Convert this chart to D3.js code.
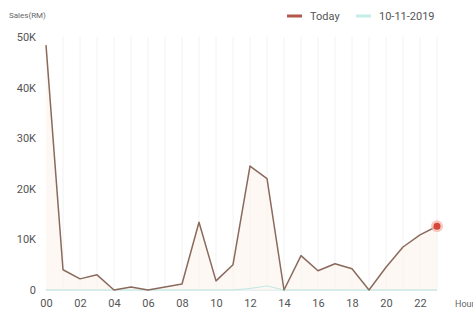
<!DOCTYPE html>
<html>
<head>
<meta charset="utf-8">
<script src="https://cdn.jsdelivr.net/npm/d3@7"></script>
<style>
  body { margin: 0; background: #fff; }
  text { font-family: Roboto, "Noto Sans", sans-serif; }
</style>
</head>
<body>
<div id="chart"></div>
<script>
// hours of the day
var hours = d3.range(0, 24);
var hourLabels = ["00","02","04","06","08","10","12","14","16","18","20","22"];

// sales per hour (RM)
var todaySales = [48400, 4000, 2200, 3000, 0, 600, 0, 600, 1200, 13400, 1800, 5000,
                  24500, 22000, 0, 6800, 3800, 5200, 4200, 0, 4500, 8500, 10900, 12600];
var pastSales  = [0, 0, 0, 0, 0, 0, 0, 0, 0, 0, 0, 0,
                  300, 800, 0, 0, 0, 0, 0, 0, 0, 0, 0, 0];

var yTicks = [0, 10000, 20000, 30000, 40000, 50000];

var width = 473, height = 313;
var margin = { top: 37, right: 36, bottom: 23, left: 46 };

var svg = d3.select("#chart").append("svg")
  .attr("width", width)
  .attr("height", height);

var x = d3.scaleLinear()
  .domain([0, 23])
  .range([margin.left, width - margin.right]);

var y = d3.scaleLinear()
  .domain([0, 50000])
  .range([height - margin.bottom, margin.top]);

// vertical grid
svg.append("g")
  .selectAll("line")
  .data(hours.slice(1))
  .enter().append("line")
  .attr("x1", function(d) { return x(d); })
  .attr("x2", function(d) { return x(d); })
  .attr("y1", y(50000))
  .attr("y2", y(0))
  .attr("stroke", "#f2f2f2")
  .attr("stroke-width", 1);

// baseline
svg.append("line")
  .attr("x1", x(0)).attr("x2", x(23))
  .attr("y1", y(0)).attr("y2", y(0))
  .attr("stroke", "#cfe3e3");

// y axis labels
var yAxis = d3.axisLeft(y)
  .tickValues(yTicks)
  .tickSize(0)
  .tickPadding(10)
  .tickFormat(function(d) { return d == 0 ? "0" : (d / 1000) + "K"; });

svg.append("g")
  .attr("transform", "translate(" + margin.left + ",0)")
  .call(yAxis)
  .call(function(g) { g.select(".domain").remove(); })
  .selectAll("text")
  .attr("fill", "#555")
  .style("font-size", "11px");

// x axis labels
var xAxis = d3.axisBottom(x)
  .tickValues(d3.range(0, 24, 2))
  .tickSize(0)
  .tickPadding(9)
  .tickFormat(function(d, i) { return hourLabels[i]; });

svg.append("g")
  .attr("transform", "translate(0," + y(0) + ")")
  .call(xAxis)
  .call(function(g) { g.select(".domain").remove(); })
  .selectAll("text")
  .attr("fill", "#555")
  .style("font-size", "11px");

// axis titles
svg.append("text")
  .attr("x", 9).attr("y", 18)
  .attr("fill", "#666")
  .style("font-size", "8px")
  .text("Sales(RM)");

svg.append("text")
  .attr("x", 455).attr("y", 307)
  .attr("fill", "#666")
  .style("font-size", "9px")
  .text("Hour");

// area under today
var area = d3.area()
  .x(function(d, i) { return x(hours[i]); })
  .y0(y(0))
  .y1(function(d) { return y(d); });

svg.append("path")
  .datum(todaySales)
  .attr("d", area)
  .attr("fill", "#fdf3ec")
  .attr("opacity", 0.6);

var line = d3.line()
  .x(function(d, i) { return x(hours[i]); })
  .y(function(d) { return y(d); });

svg.append("path")
  .datum(pastSales)
  .attr("d", line)
  .attr("fill", "none")
  .attr("stroke", "#bfe8e4")
  .attr("stroke-width", 1);

svg.append("path")
  .datum(todaySales)
  .attr("d", line)
  .attr("fill", "none")
  .attr("stroke", "#8a6a5c")
  .attr("stroke-width", 1.5)
  .attr("stroke-linejoin", "round");

// last point marker
var last = todaySales.length - 1;
svg.append("circle")
  .attr("cx", x(hours[last])).attr("cy", y(todaySales[last]))
  .attr("r", 6)
  .attr("fill", "#f2b3a8")
  .attr("opacity", 0.7);
svg.append("circle")
  .attr("cx", x(hours[last])).attr("cy", y(todaySales[last]))
  .attr("r", 3.5)
  .attr("fill", "#d9473a");

// legend
var legend = svg.append("g");
legend.append("line")
  .attr("x1", 287).attr("x2", 302)
  .attr("y1", 16).attr("y2", 16)
  .attr("stroke", "#b0594a").attr("stroke-width", 3);
legend.append("text")
  .attr("x", 310).attr("y", 20)
  .attr("fill", "#555")
  .style("font-size", "11px")
  .text("Today");
legend.append("line")
  .attr("x1", 356).attr("x2", 371)
  .attr("y1", 16).attr("y2", 16)
  .attr("stroke", "#c5ece8").attr("stroke-width", 3);
legend.append("text")
  .attr("x", 379).attr("y", 20)
  .attr("fill", "#555")
  .style("font-size", "11px")
  .text("10-11-2019");
</script>
</body>
</html>
